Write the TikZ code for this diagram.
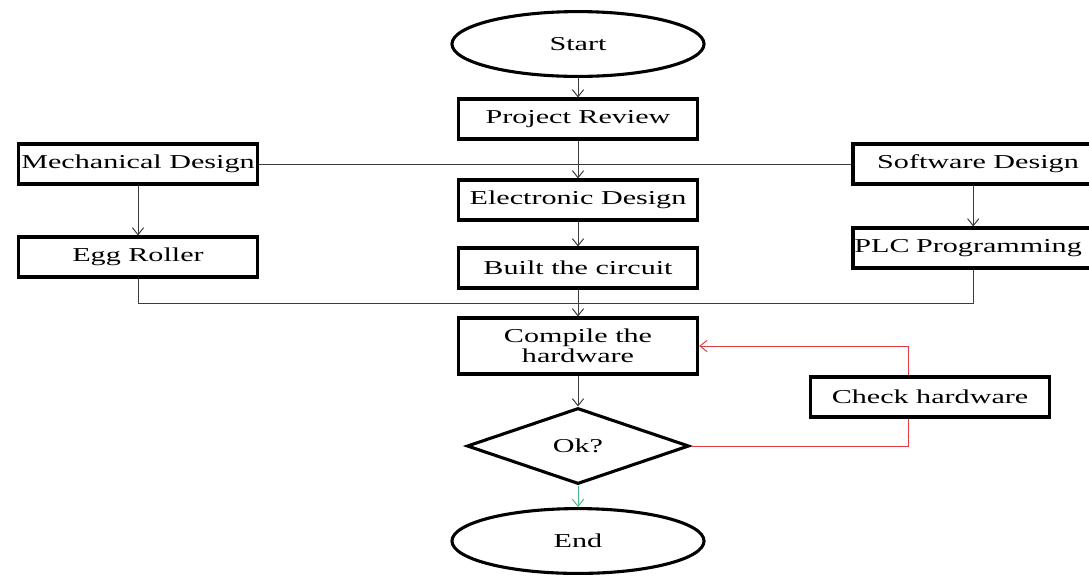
\documentclass[tikz,border=0pt]{standalone}
\usepackage{fontspec}
\setmainfont{Liberation Serif}[FakeStretch=1.53]
\usepackage{xcolor}
\usepackage{tikz}
\usetikzlibrary{positioning}
\usetikzlibrary{arrows.meta}
\usetikzlibrary{shapes.geometric}

\definecolor{loopred}{RGB}{226,62,66}
\definecolor{okgreen}{RGB}{72,184,132}
\definecolor{wire}{RGB}{60,60,60}

\begin{document}
\begin{tikzpicture}[x=0.025cm, y=-0.025cm,
            every node/.style={font=\fontsize{14}{14.5}\selectfont},
            block/.style={draw=black, line width=2.2pt, rectangle, align=center,
            minimum width=5.98cm, minimum height=1cm, inner sep=2pt},
            terminal/.style={draw=black, line width=2.2pt, ellipse,
            minimum width=6.3cm, minimum height=1.62cm, inner sep=0pt},
            test/.style={draw=black, line width=2.2pt, diamond,
            minimum width=5.55cm, minimum height=1.9cm, inner sep=0pt},
            link/.style={draw=wire, line width=0.7pt},
            flow/.style={link, -{Straight Barb[length=5pt,width=8pt]}}]
            \clip (0,0) rectangle (1089,575);

            % centre column
            \node[terminal] (start) at (578,44) {Start};
            \node[block] (project) at (578,119) {Project Review};
            \node[block] (elec) at (578,200) {Electronic Design};
            \node[block] (built) at (578,268) {Built the circuit};
            \node[block, minimum height=1.4cm] (compile) at (578,346) {Compile the\\hardware};
            \node[test] (ok) at (578,446) {Ok?};
            \node[terminal] (end) at (578,541) {End};

            % side branches
            \node[block] (mech) at (138,164) {Mechanical Design};
            \node[block] (egg) at (138,257) {Egg Roller};
            \node[block, minimum width=6.25cm] (soft) at (978,164) {Software Design};
            \node[block, align=left, inner xsep=1pt, text width=6.18cm] (plc) at (978,248) {PLC Programming};
            \node[block] (check) at (930,397) {Check hardware};

            \coordinate (join) at (578,303);

            \draw[flow] (start) -- (project);
            \draw[flow] (project) -- (elec);
            \draw[link] (mech.east) -- (soft.west);
            \draw[flow] ([xshift=-0.12cm]soft.south) -- ([xshift=-0.12cm]plc.north);
            \draw[flow] (mech) -- (egg);
            \draw[flow] (elec) -- (built);
            \draw[link] (egg.south) |- (join) -| ([xshift=-0.12cm]plc.south);
            \draw[flow] (built) -- (compile);
            \draw[flow] (compile) -- (ok);
            \draw[flow, draw=okgreen] (ok) -- (end);
            \draw[link, draw=loopred] (ok.east) -| ([xshift=-0.55cm]check.south);
            \draw[flow, draw=loopred] ([xshift=-0.55cm]check.north) |- (compile.east);
        \end{tikzpicture}
\end{document}
